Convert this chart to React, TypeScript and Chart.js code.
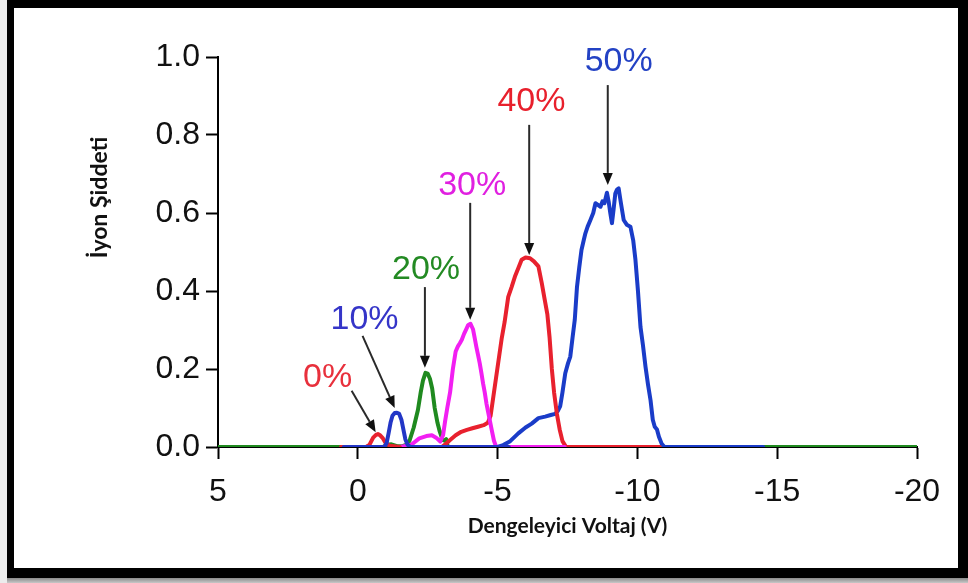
import React, { useEffect, useRef } from "react";
import { Chart, registerables } from "chart.js";

Chart.register(...registerables);

// Axis ticks
const xTickValues = [5, 0, -5, -10, -15, -20];
const yTickValues = [0, 0.2, 0.4, 0.6, 0.8, 1.0];

// 0% series
const s0X = [0.6, -0.3, -0.42, -0.55, -0.65, -0.72, -0.8, -0.9, -1.0, -1.15, -1.5];
const s0Y = [0, 0, 0.006, 0.024, 0.031, 0.033, 0.03, 0.022, 0.01, 0.003, 0];

// 10% series
const s10X = [0.5, -0.95, -1.03, -1.1, -1.17, -1.24, -1.32, -1.4, -1.48, -1.56, -1.63, -1.7, -1.78, -1.88, -5.4];
const s10Y = [0, 0, 0.01, 0.035, 0.062, 0.08, 0.087, 0.088, 0.085, 0.07, 0.045, 0.02, 0.006, 0, 0];

// 20% series
const s20X = [5, -0.9, -1.05, -1.2, -1.4, -1.6, -1.75, -1.85, -2.0, -2.15, -2.25, -2.33, -2.42, -2.5, -2.58, -2.66, -2.75, -2.85, -2.93, -3.03, -3.1, -3.16, -3.22, -20];
const s20Y = [0, 0, 0.006, 0.007, 0.002, 0.002, 0.006, 0.016, 0.05, 0.095, 0.14, 0.17, 0.19, 0.188, 0.175, 0.15, 0.1, 0.062, 0.04, 0.018, 0.016, 0.02, 0, 0];

// 30% series
const s30X = [-1.5, -1.9, -2.2, -2.45, -2.65, -2.8, -2.95, -3.05, -3.12, -3.2, -3.3, -3.4, -3.5, -3.58, -3.65, -3.72, -3.8, -3.88, -3.95, -4.03, -4.12, -4.18, -4.24, -4.3, -4.36, -4.42, -4.48, -4.54, -4.6, -4.66, -4.72, -4.8, -4.87, -4.95, -7.4];
const s30Y = [0, 0.005, 0.022, 0.028, 0.03, 0.024, 0.014, 0.03, 0.065, 0.1, 0.14, 0.2, 0.245, 0.258, 0.266, 0.275, 0.29, 0.302, 0.313, 0.316, 0.302, 0.28, 0.257, 0.236, 0.215, 0.19, 0.163, 0.14, 0.112, 0.09, 0.069, 0.04, 0.016, 0, 0];

// 40% series
const s40X = [-3.0, -3.15, -3.3, -3.5, -3.7, -3.9, -4.1, -4.3, -4.5, -4.65, -4.75, -4.85, -4.95, -5.05, -5.15, -5.25, -5.38, -5.5, -5.62, -5.75, -5.86, -6.0, -6.16, -6.3, -6.46, -6.58, -6.68, -6.78, -6.86, -6.94, -7.02, -7.12, -7.22, -7.32, -7.45, -10.8];
const s40Y = [0, 0.008, 0.018, 0.03, 0.039, 0.044, 0.048, 0.052, 0.056, 0.062, 0.08, 0.13, 0.18, 0.23, 0.28, 0.32, 0.385, 0.41, 0.437, 0.46, 0.48, 0.486, 0.484, 0.476, 0.463, 0.42, 0.38, 0.34, 0.28, 0.2, 0.14, 0.085, 0.045, 0.015, 0, 0];

// 50% series
const s50X = [-5.0, -5.2, -5.45, -5.74, -6.0, -6.22, -6.46, -6.7, -6.9, -7.06, -7.15, -7.24, -7.32, -7.42, -7.52, -7.6, -7.68, -7.76, -7.84, -7.92, -8.0, -8.08, -8.14, -8.22, -8.32, -8.42, -8.5, -8.6, -8.68, -8.75, -8.82, -8.91, -8.97, -9.03, -9.09, -9.15, -9.21, -9.27, -9.33, -9.4, -9.51, -9.62, -9.75, -9.85, -9.93, -10.02, -10.11, -10.2, -10.29, -10.38, -10.47, -10.55, -10.62, -10.7, -10.77, -10.87, -10.97, -14.5];
const s50Y = [0, 0.005, 0.015, 0.035, 0.05, 0.06, 0.074, 0.078, 0.082, 0.085, 0.092, 0.105, 0.14, 0.189, 0.215, 0.232, 0.28, 0.326, 0.411, 0.46, 0.505, 0.53, 0.548, 0.565, 0.582, 0.6, 0.625, 0.62, 0.616, 0.63, 0.625, 0.652, 0.63, 0.6, 0.574, 0.61, 0.65, 0.66, 0.663, 0.63, 0.582, 0.57, 0.565, 0.53, 0.48, 0.4, 0.308, 0.26, 0.206, 0.16, 0.12, 0.07, 0.052, 0.045, 0.026, 0.008, 0, 0];

// Percentage annotations with arrows (data coordinates)
const noteTexts = ["0%", "10%", "20%", "30%", "40%", "50%"];
const noteColors = ["#e8303c", "#3535c8", "#238a23", "#e020e0", "#e8202c", "#2342c4"];
const noteX = [1.08, -0.24, -2.44, -4.09, -6.21, -9.33];
const noteY = [0.177, 0.326, 0.454, 0.669, 0.885, 0.987];
const arrowFromX = [0.22, -0.17, -2.4, -4.02, -6.13, -8.94];
const arrowFromY = [0.144, 0.285, 0.41, 0.626, 0.826, 0.928];
const arrowToX = [-0.64, -1.32, -2.4, -4.02, -6.13, -8.94];
const arrowToY = [0.038, 0.1, 0.203, 0.326, 0.492, 0.672];

const RED = "#e8212e";
const BLUE = "#1a3cc8";
const GREEN = "#1f8a1f";
const MAGENTA = "#f21ff2";

const pts = (xs: number[], ys: number[]) => xs.map((x, i) => ({ x, y: ys[i] }));

const annotationPlugin = {
  id: "arrowNotes",
  afterDatasetsDraw(chart: any) {
    const { ctx, scales, chartArea } = chart;
    const xs = scales.x;
    const ys = scales.y;
    ctx.save();
    for (let i = 0; i < noteTexts.length; i++) {
      const x1 = xs.getPixelForValue(arrowFromX[i]);
      const y1 = ys.getPixelForValue(arrowFromY[i]);
      const x2 = xs.getPixelForValue(arrowToX[i]);
      const y2 = ys.getPixelForValue(arrowToY[i]);
      const ang = Math.atan2(y2 - y1, x2 - x1);
      const head = 12;
      const half = 5;
      const bx = x2 - head * Math.cos(ang);
      const by = y2 - head * Math.sin(ang);
      ctx.strokeStyle = "#2a2a2a";
      ctx.lineWidth = 2;
      ctx.beginPath();
      ctx.moveTo(x1, y1);
      ctx.lineTo(bx, by);
      ctx.stroke();
      ctx.fillStyle = "#111";
      ctx.beginPath();
      ctx.moveTo(x2, y2);
      ctx.lineTo(bx + half * Math.sin(ang), by - half * Math.cos(ang));
      ctx.lineTo(bx - half * Math.sin(ang), by + half * Math.cos(ang));
      ctx.closePath();
      ctx.fill();

      ctx.fillStyle = noteColors[i];
      ctx.font = "34px 'Liberation Sans', Arial, sans-serif";
      ctx.textAlign = "center";
      ctx.textBaseline = "middle";
      ctx.fillText(noteTexts[i], xs.getPixelForValue(noteX[i]), ys.getPixelForValue(noteY[i]));
    }
    // vertical axis title
    ctx.translate(chartArea.left - 118, ys.getPixelForValue(0.64));
    ctx.rotate(-Math.PI / 2);
    ctx.fillStyle = "#111";
    ctx.font = "bold 23px Lato, 'Open Sans', sans-serif";
    ctx.textAlign = "center";
    ctx.textBaseline = "middle";
    ctx.fillText("İyon Şiddeti", 0, 0);
    ctx.restore();
  },
};

export default function App() {
  const canvasRef = useRef<HTMLCanvasElement | null>(null);

  useEffect(() => {
    document.body.style.margin = "0";
    const canvas = canvasRef.current;
    if (!canvas) return;
    const line = (data: { x: number; y: number }[], color: string) => ({
      data,
      borderColor: color,
      backgroundColor: color,
      borderWidth: 4,
      pointRadius: 0,
      tension: 0,
      fill: false,
      borderJoinStyle: "round" as const,
      borderCapStyle: "round" as const,
    });
    const chart = new Chart(canvas, {
      type: "line",
      data: {
        datasets: [
          line(pts(s10X, s10Y), "#2336c6"),
          line(pts(s0X, s0Y), RED),
          line(pts(s30X, s30Y), MAGENTA),
          line(pts(s40X, s40Y), RED),
          line(pts(s50X, s50Y), BLUE),
          line(pts(s20X, s20Y), GREEN),
        ],
      },
      options: {
        animation: false,
        responsive: false,
        events: [],
        layout: { padding: { top: 49, right: 41, left: 0, bottom: 0 } },
        plugins: { legend: { display: false }, tooltip: { enabled: false } },
        scales: {
          x: {
            type: "linear",
            reverse: true,
            min: -20,
            max: 5,
            afterBuildTicks: (s: any) => {
              s.ticks = xTickValues.map((v) => ({ value: v }));
            },
            afterFit: (s: any) => {
              s.height = 121;
            },
            grid: {
              display: true,
              drawOnChartArea: false,
              drawTicks: true,
              tickLength: 12,
              tickWidth: 2,
              tickColor: "#000",
            },
            border: { display: true, color: "#000", width: 2 },
            ticks: {
              color: "#111",
              font: { family: "'Liberation Sans', Arial, sans-serif", size: 32 },
              padding: 14,
              maxRotation: 0,
              autoSkip: false,
              callback: (v: any) => String(v),
            },
            title: {
              display: true,
              text: "Dengeleyici Voltaj (V)",
              color: "#111",
              font: { family: "Lato, 'Open Sans', sans-serif", weight: "bold", size: 21 },
              padding: { top: 0, bottom: 29 },
            },
          },
          y: {
            min: 0,
            max: 1,
            afterBuildTicks: (s: any) => {
              s.ticks = yTickValues.map((v) => ({ value: v }));
            },
            afterFit: (s: any) => {
              s.width = 203;
            },
            grid: {
              display: true,
              drawOnChartArea: false,
              drawTicks: true,
              tickLength: 12,
              tickWidth: 2,
              tickColor: "#000",
            },
            border: { display: true, color: "#000", width: 2 },
            ticks: {
              color: "#111",
              font: { family: "'Liberation Sans', Arial, sans-serif", size: 32 },
              padding: 6,
              callback: (v: any) => Number(v).toFixed(1),
            },
          },
        },
      },
      plugins: [annotationPlugin],
    });
    return () => chart.destroy();
  }, []);

  return (
    <div style={{ position: "relative", width: 968, height: 583, background: "#ececec", overflow: "hidden" }}>
      <div
        style={{
          position: "absolute",
          left: 7,
          top: 0,
          width: 961,
          height: 578,
          boxSizing: "border-box",
          borderStyle: "solid",
          borderColor: "#000",
          borderWidth: "8px 10px 10px 7px",
          background: "#fff",
        }}
      />
      <div
        style={{
          position: "absolute",
          left: 7,
          top: 578,
          width: 961,
          height: 5,
          background: "linear-gradient(#8a8a8a, #c8c8c8)",
        }}
      />
      <canvas
        ref={canvasRef}
        width={943}
        height={560}
        style={{ position: "absolute", left: 15, top: 8, width: 943, height: 560 }}
      />
    </div>
  );
}
